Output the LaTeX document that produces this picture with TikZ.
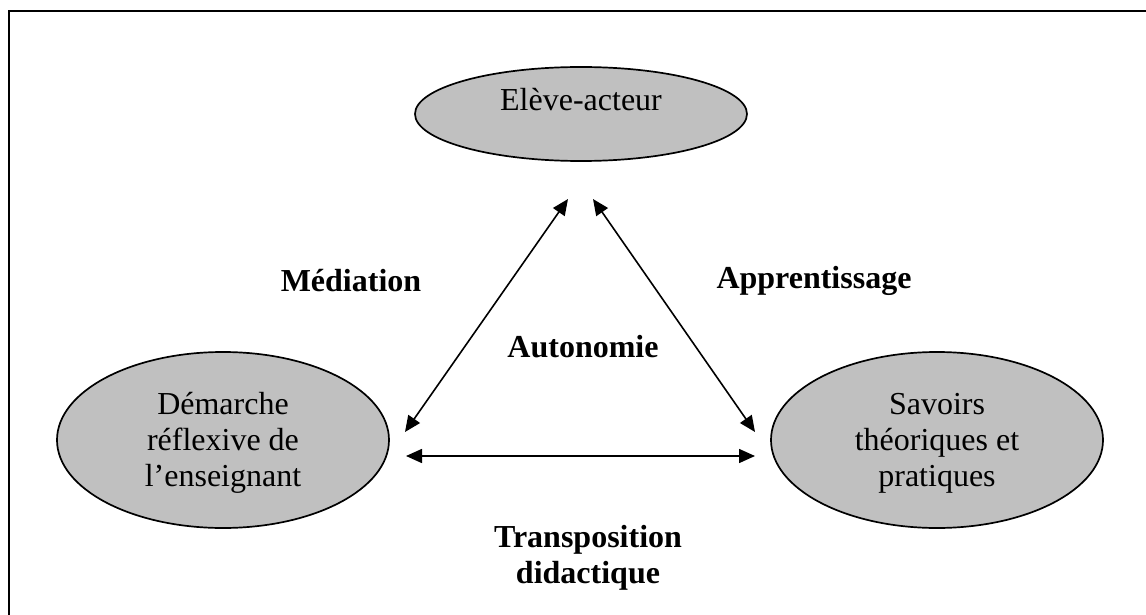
\documentclass[tikz,border=0pt]{standalone}
\usepackage{fontspec}
\setmainfont{Liberation Serif}
\usetikzlibrary{shapes.geometric,arrows.meta}
\definecolor{ellgray}{RGB}{192,192,192}
\tikzset{
  ell/.style={ellipse, draw=black, fill=ellgray, line width=1.7pt, inner sep=0pt},
  txt/.style={font=\fontsize{32}{36}\selectfont, align=center, inner sep=0pt},
  lbl/.style={font=\fontsize{32}{36}\selectfont\bfseries, align=center, inner sep=0pt},
  conn/.style={line width=1.6pt, {Triangle[length=16pt,width=14pt]}-{Triangle[length=16pt,width=14pt]}},
  frame/.style={line width=2pt, draw=black}
}
\begin{document}
\begin{tikzpicture}[x=1pt,y=-1pt]
\useasboundingbox (0,0) rectangle (1146,615);
% partial frame (top and left edges)
\coordinate (ftr) at (1146,11);
\coordinate (ftl) at (9,11);
\coordinate (fbl) at (9,615);
\draw[frame] (ftr) -- (ftl) -- (fbl);

% ellipses
\node[ell, minimum width=332, minimum height=94] (eleve) at (581,114) {};
\node[txt, anchor=base] (elevet) at (581,111) {Elève-acteur};

\node[ell, minimum width=332, minimum height=176] (demarche) at (223,440) {};
\node[txt] (demarchet) at (223,443) {Démarche\\réflexive de\\l’enseignant};

\node[ell, minimum width=332, minimum height=176] (savoirs) at (937,440) {};
\node[txt] (savoirst) at (937,443) {Savoirs\\théoriques et\\pratiques};

% arrow end points
\coordinate (la) at (405,432);
\coordinate (lb) at (568,199);
\coordinate (ra) at (593,199);
\coordinate (rb) at (755,432);
\coordinate (ha) at (406,456);
\coordinate (hb) at (755,456);

\draw[conn] (la) -- (lb);
\draw[conn] (ra) -- (rb);
\draw[conn] (ha) -- (hb);

% labels
\node[lbl] (mediation) at (351,281) {Médiation};
\node[lbl] (apprentissage) at (814,281) {Apprentissage};
\node[lbl] (autonomie) at (583,347) {Autonomie};
\node[lbl] (transposition) at (588,558) {Transposition\\didactique};
\end{tikzpicture}
\end{document}
